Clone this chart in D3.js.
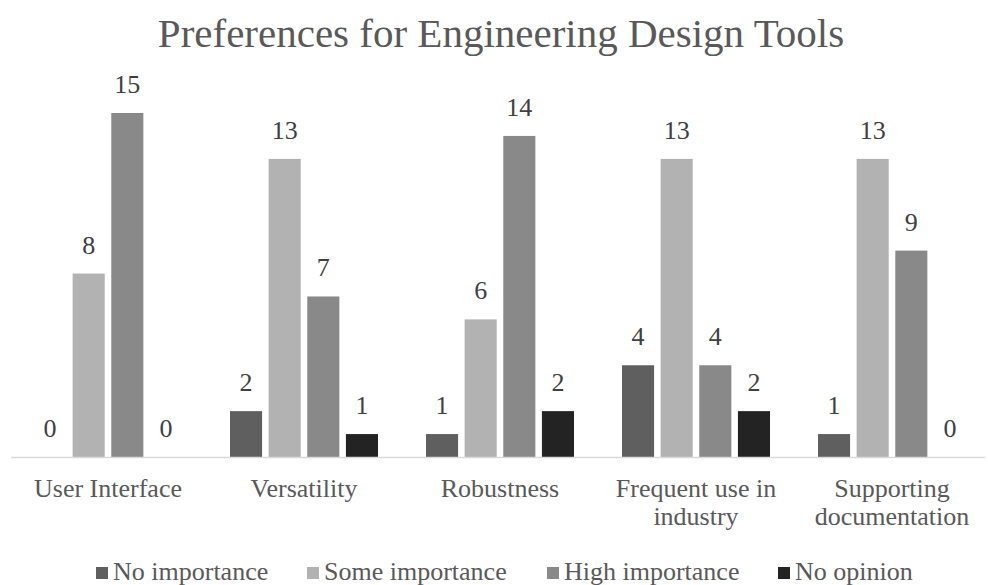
<!DOCTYPE html>
<html><head><meta charset="utf-8">
<script src="https://cdn.jsdelivr.net/npm/d3@7"></script>
</head><body style="margin:0">
<script>
const categories = ["User Interface", "Versatility", "Robustness", "Frequent use in industry", "Supporting documentation"];
const categoryLines = [["User Interface"], ["Versatility"], ["Robustness"], ["Frequent use in", "industry"], ["Supporting", "documentation"]];
const seriesNames = ["No importance", "Some importance", "High importance", "No opinion"];
const seriesColors = ["#5f5f5f", "#b2b2b2", "#898989", "#232323"];
const noImportance = [0, 2, 1, 4, 1];
const someImportance = [8, 13, 6, 13, 13];
const highImportance = [15, 7, 14, 4, 9];
const noOpinion = [0, 1, 2, 2, 0];
const seriesValues = [noImportance, someImportance, highImportance, noOpinion];

const W = 988, H = 585;
const svg = d3.select("body").append("svg").attr("width", W).attr("height", H)
  .style("display", "block").style("font-family", '"Liberation Serif", "Times New Roman", Tinos, Times');

svg.append("text").attr("x", 501).attr("y", 47).attr("text-anchor", "middle")
  .style("font-size", "41px").attr("fill", "#595959")
  .text("Preferences for Engineering Design Tools");

const x0 = d3.scaleBand().domain(categories).range([10, 990]).padding(0);
const x1 = d3.scaleBand().domain(seriesNames).range([24, 172]).paddingInner(0.17).paddingOuter(0);
const y = d3.scaleLinear().domain([0, 15]).range([457, 113]);

const groups = svg.selectAll("g.cat").data(categories).enter().append("g")
  .attr("transform", d => `translate(${x0(d)},0)`);

groups.each(function(cat, ci) {
  const g = d3.select(this);
  seriesNames.forEach((s, si) => {
    const v = seriesValues[si][ci];
    if (v > 0) {
      g.append("rect").attr("x", x1(s)).attr("width", x1.bandwidth())
        .attr("y", y(v)).attr("height", y(0) - y(v)).attr("fill", seriesColors[si]);
    }
    g.append("text").attr("x", x1(s) + x1.bandwidth() / 2).attr("y", y(v) - 20)
      .attr("text-anchor", "middle").style("font-size", "26px")
      .attr("fill", "#404040").text(v);
  });
  const t = g.append("text").attr("text-anchor", "middle")
    .style("font-size", "26px").attr("fill", "#595959");
  categoryLines[ci].forEach((line, li) => {
    t.append("tspan").attr("x", x0.bandwidth() / 2).attr("y", 497 + li * 28).text(line);
  });
});

svg.append("line").attr("x1", 11).attr("x2", 985).attr("y1", y(0) + 0.5).attr("y2", y(0) + 0.5)
  .attr("stroke", "#d9d9d9").attr("stroke-width", 1.5);

const legendX = [96, 307, 547, 778];
seriesNames.forEach((s, i) => {
  svg.append("rect").attr("x", legendX[i]).attr("y", 567).attr("width", 12).attr("height", 12)
    .attr("fill", seriesColors[i]);
  svg.append("text").attr("x", legendX[i] + 17).attr("y", 580)
    .style("font-size", "26px").attr("fill", "#595959").text(s);
});
</script>
</body></html>
